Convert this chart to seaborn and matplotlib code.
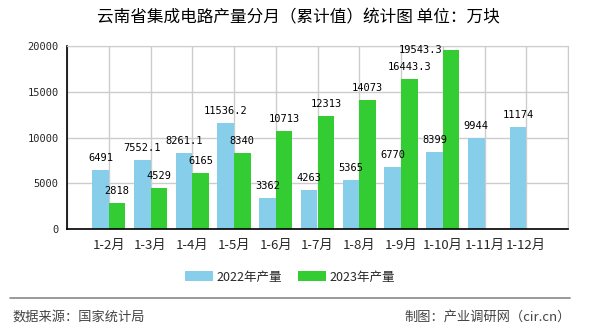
import numpy as np
import pandas as pd
import matplotlib
matplotlib.use("Agg")
import matplotlib.pyplot as plt
import seaborn as sns
from matplotlib.patches import Patch
from matplotlib.lines import Line2D

categories = ["1-2月", "1-3月", "1-4月", "1-5月", "1-6月", "1-7月", "1-8月", "1-9月", "1-10月", "1-11月", "1-12月"]
values_2022 = [6491, 7552.1, 8261.1, 11536.2, 3362, 4263, 5365, 6770, 8399, 9944, 11174]
values_2023 = [2818, 4529, 6165, 8340, 10713, 12313, 14073, 16443.3, 19543.3, np.nan, np.nan]
series_names = ["2022年产量", "2023年产量"]
label_2022 = ["6491", "7552.1", "8261.1", "11536.2", "3362", "4263", "5365", "6770", "8399", "9944", "11174"]
label_2023 = ["2818", "4529", "6165", "8340", "10713", "12313", "14073", "16443.3", "19543.3", "", ""]
yticks = [0, 5000, 10000, 15000, 20000]
colors = ["#87CEEB", "#33CC33"]

sns.set_style("white")
plt.rcParams['font.family'] = ['Noto Sans CJK SC', 'DejaVu Sans']

df = pd.DataFrame({
    "cat": categories * 2,
    "val": values_2022 + values_2023,
    "series": [series_names[0]] * len(categories) + [series_names[1]] * len(categories),
})

fig = plt.figure(figsize=(5.9, 3.3), dpi=100)
ax = fig.add_axes([67 / 590, 1 - 229 / 330, (568 - 67) / 590, (229 - 46) / 330])

sns.barplot(data=df, x="cat", y="val", hue="series", palette=colors, width=0.8,
            saturation=1, ax=ax, legend=False, order=categories, hue_order=series_names,
            linewidth=0, edgecolor="none")

ax.set_xlim(-1, len(categories))
ax.set_ylim(0, 20000)
ax.set_xlabel("")
ax.set_ylabel("")

xt = list(range(-1, len(categories) + 1))
ax.set_xticks(xt)
ax.set_xticklabels([""] + categories + [""], fontsize=9.5)
ax.set_yticks(yticks)
ax.set_yticklabels([str(v) for v in yticks], family="DejaVu Sans Mono", fontsize=7.5)
ax.tick_params(axis="both", direction="out", length=4, width=1, color="black", pad=2)
ax.tick_params(axis="x", pad=3)

ax.grid(True, color="#cccccc", linewidth=1)
ax.set_axisbelow(True)
for s in ["top", "right"]:
    ax.spines[s].set_color("#cccccc")
for s in ["left", "bottom"]:
    ax.spines[s].set_color("black")
    ax.spines[s].set_linewidth(1.2)

# value labels
ymax = ax.get_ylim()[1]
for cont, labels in zip(ax.containers, [label_2022, label_2023]):
    for bar, lab in zip(cont, labels):
        if not lab:
            continue
        h = bar.get_height()
        if np.isnan(h):
            continue
        cx = bar.get_x() + bar.get_width() / 2
        if h > ymax * 0.95:
            ax.text(bar.get_x(), h, lab, ha="right", va="center",
                    family="DejaVu Sans Mono", fontsize=7.5, color="black")
        else:
            ax.annotate(lab, (cx, h), xytext=(0, 5), textcoords="offset points",
                        ha="center", va="bottom", family="DejaVu Sans Mono",
                        fontsize=7.5, color="black")

fig.text(298 / 590, 1 - 18 / 330, "云南省集成电路产量分月（累计值）统计图 单位：万块",
         ha="center", va="center", fontsize=12, color="black")

handles = [Patch(facecolor=c, edgecolor="none") for c in colors]
fig.legend(handles, series_names, loc="center", bbox_to_anchor=(0.492, 1 - 277 / 330),
           ncol=2, frameon=False, fontsize=9, handlelength=2.2, handleheight=0.9,
           columnspacing=1.3, handletextpad=0.3)

fig.add_artist(Line2D([10 / 590, 570 / 590], [1 - 298 / 330, 1 - 298 / 330],
                      color="#888888", linewidth=1.2, transform=fig.transFigure))
fig.text(12 / 590, 1 - 317 / 330, "数据来源：国家统计局", ha="left", va="center",
         fontsize=9.5, color="#444444")
fig.text(571 / 590, 1 - 317 / 330, "制图：产业调研网（cir.cn）", ha="right", va="center",
         fontsize=9.5, color="#444444")

fig.savefig("out.png", dpi=100)
